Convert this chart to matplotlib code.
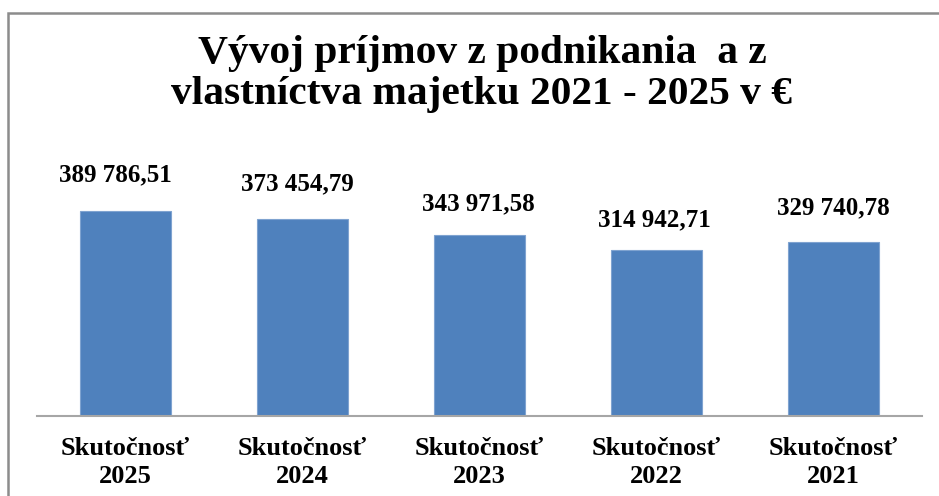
import matplotlib
matplotlib.use("Agg")
import matplotlib.pyplot as plt
from matplotlib.patches import Rectangle

categories = ["Skutočnosť\n2025", "Skutočnosť\n2024", "Skutočnosť\n2023",
              "Skutočnosť\n2022", "Skutočnosť\n2021"]
values = [389786.51, 373454.79, 343971.58, 314942.71, 329740.78]
value_labels = ["389 786,51", "373 454,79", "343 971,58", "314 942,71", "329 740,78"]
title = "Vývoj príjmov z podnikania  a z\nvlastníctva majetku 2021 - 2025 v €"

# label nudges in pixels (dx, dy above bar top)
label_dx = [-10, -5, -1, -2, 0]
label_dy = [30, 29, 25, 24, 28]

W, H, DPI = 939, 496, 100
fig = plt.figure(figsize=(W / DPI, H / DPI), dpi=DPI)
plt.rcParams['font.family'] = ['Liberation Serif', 'DejaVu Serif']

ax = fig.add_axes([37 / W, (H - 415.7) / H, (922 - 37) / W, (415.7 - 153) / H])
x = list(range(len(values)))
ax.bar(x, values, width=0.51, color="#4F81BD", edgecolor="#7FA3D0", linewidth=0.8, zorder=2)
ax.set_xlim(-0.5, len(values) - 0.5)
ax.set_ylim(0, 500000)
for s in ["top", "right", "left"]:
    ax.spines[s].set_visible(False)
ax.spines["bottom"].set_color("#A6A6A6")
ax.spines["bottom"].set_linewidth(1.5)
ax.set_yticks([])
ax.set_xticks(x)
ax.set_xticklabels(categories, fontsize=19, fontweight="bold", linespacing=1.3)
ax.tick_params(axis="x", length=0, pad=15)

for i, (v, lab) in enumerate(zip(values, value_labels)):
    ax.annotate(lab, xy=(i, v), xytext=(label_dx[i] * 72 / DPI, label_dy[i] * 72 / DPI),
                textcoords="offset points", ha="center", va="baseline",
                fontsize=18, fontweight="bold", color="black")

fig.text(482 / W, 1 - 74 / H, title, ha="center", va="center", fontsize=29.8,
         fontweight="bold", linespacing=1.12)

fig.patches.append(Rectangle((8 / W, -0.1), 1.2, 1 - 13 / H + 0.1, transform=fig.transFigure,
                             fill=False, edgecolor="#8C8C8C", linewidth=1.8))

fig.savefig("out.png", dpi=DPI)
